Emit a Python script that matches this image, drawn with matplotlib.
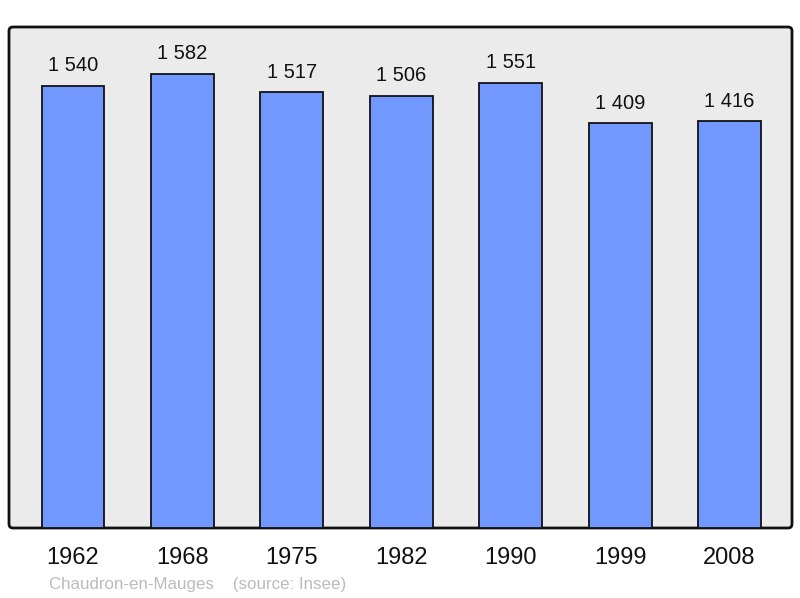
import matplotlib
matplotlib.use("Agg")
import matplotlib.pyplot as plt
from matplotlib.patches import FancyBboxPatch

years = ["1962", "1968", "1975", "1982", "1990", "1999", "2008"]
population = [1540, 1582, 1517, 1506, 1551, 1409, 1416]
value_labels = ["1 540", "1 582", "1 517", "1 506", "1 551", "1 409", "1 416"]
commune = "Chaudron-en-Mauges"
source = "(source: Insee)"

plt.rcParams['font.family'] = ['Liberation Sans', 'DejaVu Sans']

fig = plt.figure(figsize=(8, 5.98), dpi=100)
ax = fig.add_axes([9/800, 1-528/598, 783/800, 501/598])
ax.patch.set_visible(False)
ax.set_zorder(2)
for s in ax.spines.values():
    s.set_visible(False)

# rounded frame in pixel coordinates
frame = FancyBboxPatch((9, 598-528), 783, 501, boxstyle="round,pad=0,rounding_size=4",
                       transform=None, facecolor="#ebebeb", edgecolor="#111111",
                       linewidth=2, zorder=-1)
fig.patches.append(frame)

x = list(range(len(years)))
ax.bar(x, population, width=0.575, color="#7098ff", edgecolor="#111111",
       linewidth=1.3, zorder=2)
for xi, v, lab in zip(x, population, value_labels):
    ax.annotate(lab, (xi, v), xytext=(0, 10.5), textcoords="offset points",
                ha="center", va="baseline", fontsize=14.5, color="#111111")

ax.set_xlim(-0.585, 6.57)
ax.set_ylim(0, 1745)
ax.set_xticks(x)
ax.set_xticklabels(years, fontsize=17, color="#111111")
ax.tick_params(axis="x", length=0, pad=13.5)
ax.set_yticks([])

fig.text(49/800, 1-584/598, commune + "    " + source, fontsize=12.2,
         color="#bbbbbb", ha="left", va="center")

fig.savefig("out.png", dpi=100)
